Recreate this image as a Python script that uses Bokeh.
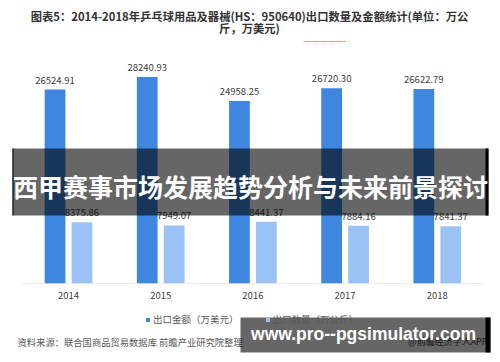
from bokeh.plotting import figure
from bokeh.layouts import column
from bokeh.models import (ColumnDataSource, Range1d, Label, LabelSet,
                          BoxAnnotation, Legend, LegendItem, FixedTicker)
from bokeh.transform import dodge
from bokeh.core.properties import value
from bokeh.embed import file_html
from bokeh.resources import INLINE

# ---------------- data ----------------
years = ["2014", "2015", "2016", "2017", "2018"]
export_value = [26524.91, 28240.93, 24958.25, 26720.30, 26622.79]   # 出口金额（万美元）
export_qty = [8375.86, 7949.07, 8441.37, 7884.16, 7841.37]          # 出口数量（万公斤）
series_names = ["出口金额（万美元）", "出口数量（万公斤）"]
title_lines = ["图表5：2014-2018年乒乓球用品及器械(HS：950640)出口数量及金额统计(单位：万公",
               "斤，万美元)"]
source_text = "资料来源：联合国商品贸易数据库 前瞻产业研究院整理"
credit_text = "@前瞻经济学人APP"
banner_text = "西甲赛事市场发展趋势分析与未来前景探讨"
url_text = "www.pro--pgsimulator.com"

# ---------------- layout constants ----------------
W = 500
CJK = "Noto Sans CJK SC"
C_DARK = "#3e86e0"
C_LIGHT = "#9bc2f4"
OFF = 0.146
BW = 0.225
TOP_H = 50          # title strip
MID_H = 260         # chart strip (canvas 50..310)
BOT_H = 52          # legend / source strip (canvas 310..362)
FRAME_BOTTOM = 283  # chart baseline in canvas px
PX_PER_CAT = 92.2
FIRST_CX = 68.0


def bare(fig):
    fig.outline_line_color = None
    fig.xgrid.visible = False
    fig.ygrid.visible = False
    fig.xaxis.visible = False
    fig.yaxis.visible = False
    fig.min_border = 0
    return fig


def make_helpers(fig, y_base):
    """y_base: canvas y of the frame bottom for this figure"""
    def label(X, Y, text, **kw):
        fig.add_layout(Label(x=X, y=y_base - Y, x_units="screen", y_units="screen",
                             text=text, **kw))

    def box(x0, x1, y0, y1, **kw):
        fig.add_layout(BoxAnnotation(left=x0, right=x1, top=y_base - y0, bottom=y_base - y1,
                                     left_units="screen", right_units="screen",
                                     top_units="screen", bottom_units="screen", **kw))
    return label, box


# ---------------- title strip ----------------
t = bare(figure(width=W, height=TOP_H, x_range=Range1d(0, 1), y_range=Range1d(0, 1),
                output_backend="svg", toolbar_location=None))
tl, tb = make_helpers(t, TOP_H)
tl(249, 15, title_lines[0], text_align="center", text_baseline="middle",
   text_font=CJK, text_font_size="11.3px", text_font_style="bold", text_color="#333333")
tl(249, 27, title_lines[1], text_align="center", text_baseline="middle",
   text_font=CJK, text_font_size="11.3px", text_font_style="bold", text_color="#333333")
tb(303, 345, 40.5, 41.5, fill_color="#e35a5a", fill_alpha=0.8, line_color=None,
   hatch_pattern="vertical_line", hatch_color="white", hatch_scale=2, hatch_weight=1)

# ---------------- chart strip ----------------
pos = list(range(len(years)))
src = ColumnDataSource(dict(
    pos=pos, year=years,
    val=export_value, qty=export_qty,
    val_txt=[f"{v:.2f}" for v in export_value],
    qty_txt=[f"{v:.2f}" for v in export_qty],
))

x_lo = -FIRST_CX / PX_PER_CAT
x_hi = (W - FIRST_CX) / PX_PER_CAT
frame_h = FRAME_BOTTOM - TOP_H
p = figure(width=W, height=MID_H,
           x_range=Range1d(x_lo, x_hi), y_range=Range1d(0, frame_h / 0.00731),
           output_backend="svg", toolbar_location=None,
           min_border_left=0, min_border_right=0, min_border_top=0,
           min_border_bottom=MID_H + TOP_H - FRAME_BOTTOM)
p.outline_line_color = None
p.xgrid.visible = False
p.ygrid.visible = False
p.yaxis.visible = False
p.xaxis.ticker = FixedTicker(ticks=pos)
p.xaxis.major_label_overrides = {i: y for i, y in zip(pos, years)}
p.xaxis.axis_line_color = None
p.xaxis.major_tick_line_color = None
p.xaxis.minor_tick_line_color = None
p.xaxis.major_tick_out = 0
p.xaxis.major_label_text_font = CJK
p.xaxis.major_label_text_font_size = "9.5px"
p.xaxis.major_label_text_color = "#404040"
p.xaxis.major_label_standoff = 8

# baseline
p.segment(x0=[pos[0] - 0.5], x1=[pos[-1] + 0.5], y0=[0], y1=[0],
          line_color="#d9d9d9", line_width=1)

p.vbar(x=dodge("pos", -OFF), top="val", width=BW, source=src,
       fill_color=C_DARK, line_color=None)
p.vbar(x=dodge("pos", OFF), top="qty", width=BW, source=src,
       fill_color=C_LIGHT, line_color=None)

for xo, col, txt in [(-OFF, "val", "val_txt"), (OFF, "qty", "qty_txt")]:
    p.add_layout(LabelSet(x=dodge("pos", xo), y=col, text=txt,
                          source=src, y_offset=6, text_align="center",
                          text_baseline="alphabetic", text_font=value(CJK),
                          text_font_size="9.5px", text_color="#404040"))

ml, mb = make_helpers(p, FRAME_BOTTOM)
mb(12, 488, 148, 215, fill_color="black", fill_alpha=0.6, line_color=None)
mb(12, 13, 148, 215, fill_color="black", fill_alpha=1, line_color=None)
mb(485, 488, 148, 215, fill_color="black", fill_alpha=1, line_color=None)
ml(250, 185, banner_text, text_align="center", text_baseline="middle",
   text_font=CJK, text_font_size="25px", text_font_style="bold", text_color="white")

# ---------------- legend / source strip ----------------
b = bare(figure(width=W, height=BOT_H, x_range=Range1d(0, 1), y_range=Range1d(0, 1),
                output_backend="svg", toolbar_location=None))
Y0 = TOP_H + MID_H  # canvas y of this strip's top
bl, bb = make_helpers(b, Y0 + BOT_H)
# zero-height proxies so the legend can draw its colour swatches
ra = b.vbar(x=[0], top=[0], width=0, fill_color=C_DARK, line_color=None)
rb = b.vbar(x=[0], top=[0], width=0, fill_color=C_LIGHT, line_color=None)
legend = Legend(items=[LegendItem(label=series_names[0], renderers=[ra]),
                       LegendItem(label=series_names[1], renderers=[rb])],
                orientation="horizontal", location=(145, Y0 + BOT_H - 326),
                glyph_width=5, glyph_height=5, label_standoff=3, spacing=26,
                padding=0, margin=0, border_line_color=None,
                background_fill_alpha=0,
                label_text_font=CJK, label_text_font_size="9.5px",
                label_text_color="#595959", label_height=10)
b.add_layout(legend)

bl(17, 341, source_text, text_align="left", text_baseline="middle",
   text_font=CJK, text_font_size="9.3px", text_color="#595959")
bl(487, 341, credit_text, text_align="right", text_baseline="middle",
   text_font=CJK, text_font_size="9px", text_color="#404040")

bb(240, 490, 317, 352, fill_color="black", fill_alpha=0.6, line_color=None)
bb(485, 490, 317, 352, fill_color="black", fill_alpha=1, line_color=None)
bl(363, 333, url_text, text_align="center", text_baseline="middle",
   text_font="Liberation Sans", text_font_size="17.5px", text_font_style="bold",
   text_color="white")

layout = column(t, p, b, spacing=0)
open("out.html", "w").write(file_html(layout, INLINE))
